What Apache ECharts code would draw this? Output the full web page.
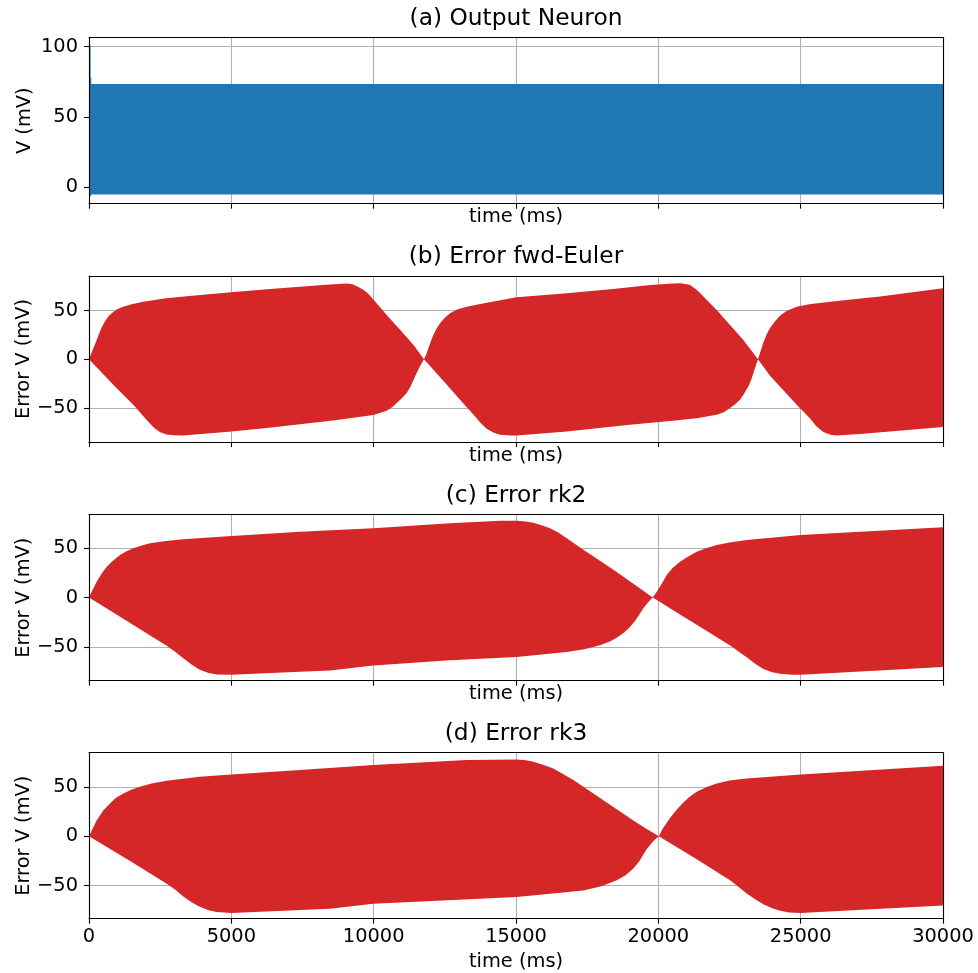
<!DOCTYPE html>
<html>
<head>
<meta charset="utf-8">
<title>Output neuron and integration error</title>
<script src="https://cdn.jsdelivr.net/npm/echarts@6/dist/echarts.min.js"></script>
<style>
  html, body { margin: 0; padding: 0; background: #fff; }
  #chart { width: 978px; height: 973px; }
</style>
</head>
<body>
<div id="chart"></div>
<script>
// Envelope of each trace: [time (ms), voltage (mV)] pairs for the upper and lower edges
const neuronUpper = [[0, 101], [55, 101], [57, 78], [80, 78], [82, 73.5], [30000, 73.5]];
const neuronLower = [[0, -6.3], [70, -6.3], [80, -5], [30000, -5]];

const eulerUpper = [
  [0, 0], [150, 11], [300, 22], [420, 31], [550, 38.5], [700, 44.5], [850, 48.5], [1000, 51.5],
  [1200, 54], [1500, 56.5], [1900, 59], [2700, 62.6], [3900, 66], [5000, 68.8], [6250, 71.8],
  [7400, 74.5], [8450, 76.8], [9053, 77.8], [9250, 77], [9450, 74.5], [9650, 71], [9800, 67.5],
  [10107, 57.5], [10458, 45.5], [10926, 30.1], [11395, 14.7], [11768, 0],
  [11863, 6.1], [11980, 16], [12096, 24.9], [12200, 31], [12331, 36.9], [12500, 42.5],
  [12682, 47.2], [12950, 51.2], [13268, 54], [13970, 58.1], [15024, 63.6], [16782, 67.7],
  [18500, 72.5], [19710, 76.3], [20500, 77.8], [20762, 78], [20950, 77.3], [21114, 76.3],
  [21300, 72.5], [21450, 68.5], [21582, 64.3], [22050, 50.6], [22518, 35.2], [22987, 19.8],
  [23500, 0],
  [23600, 9], [23689, 17], [23800, 25], [23924, 32], [24100, 39], [24275, 44.5], [24500, 49.5],
  [24861, 54], [25300, 56.5], [26032, 59.1], [27789, 64.3], [30000, 72.9]
];
const eulerLower = [
  [0, 0], [400, -12.5], [973, -30], [1558, -47], [1900, -58.5], [2100, -65], [2300, -71],
  [2500, -75.2], [2729, -77.6], [3000, -78.3], [3312, -78.4], [5000, -74.3], [6243, -70.9],
  [7412, -66.9], [8583, -63], [9990, -57.5], [10458, -53], [10650, -49.5], [10809, -45.2],
  [11000, -40], [11161, -34.9], [11300, -28], [11453, -17.8], [11550, -12], [11650, -6],
  [11768, 0],
  [12500, -24], [13268, -49.4], [13550, -58.5], [13750, -65.5], [13970, -71.5], [14200, -75.5],
  [14439, -77.7], [14800, -78.4], [15024, -78.4], [16782, -74.3], [19005, -67.5],
  [20500, -63.3], [21348, -60.8], [22050, -57.2], [22300, -54.5], [22518, -50.3],
  [22700, -46.5], [22870, -41.8], [23000, -36], [23162, -28.1], [23260, -21.5],
  [23338, -14.4], [23420, -7], [23500, 0],
  [23924, -17], [24393, -32], [24861, -47], [25050, -52.5], [25330, -61], [25550, -69],
  [25797, -75], [26050, -77.8], [26267, -78.4], [27201, -76.7], [30000, -69.8]
];

const rk2Upper = [
  [0, 0], [150, 9], [270, 15.9], [450, 24.5], [622, 31.1], [850, 37.5], [1089, 43],
  [1300, 46.7], [1558, 49.8], [1850, 52.7], [2143, 54.9], [2700, 57.3], [3312, 58.9],
  [5000, 62.3], [7412, 66.7], [9990, 70.1], [12682, 75.2], [14439, 77.8], [15024, 77.8],
  [15350, 77], [15609, 75.8], [15900, 73.3], [16195, 70.1], [16500, 65.5], [16782, 60],
  [17366, 48.3], [17951, 37.2], [18538, 25.8], [19124, 13.9], [19804, 0],
  [20000, 8.1], [20150, 15.5], [20293, 22.7], [20500, 30], [20762, 36.2], [21050, 41.5],
  [21348, 46.3], [21700, 50.2], [22050, 53.2], [22500, 55.8], [23104, 58.2], [25000, 63.3],
  [30000, 71.1]
];
const rk2Lower = [
  [0, 0], [738, -13.2], [1558, -27.9], [2260, -40.5], [2729, -49], [3000, -54.5],
  [3312, -61.5], [3600, -68], [3889, -73.2], [4200, -76.5], [4486, -77.9], [5000, -78.3],
  [7412, -75.2], [8466, -73.9], [9990, -68.8], [12682, -63.7], [15024, -60.4],
  [16782, -55.3], [17400, -52.5], [17951, -48.5], [18300, -44.5], [18538, -40.7],
  [18800, -35.5], [19005, -29.9], [19200, -23], [19356, -16.3], [19500, -10],
  [19650, -4.5], [19804, 0],
  [20762, -17.2], [21348, -27.6], [22167, -42.3], [22594, -50], [22900, -56.5],
  [23104, -60.5], [23400, -67], [23689, -72.5], [24000, -75.8], [24275, -77.3],
  [24700, -78.2], [25000, -78.3], [30000, -70.5]
];

const rk3Upper = [
  [0, 0], [270, 16.3], [500, 26], [738, 33.2], [950, 39], [1206, 43.4], [1500, 47.3],
  [1792, 50.1], [2200, 53.5], [2729, 56.2], [3889, 60.3], [5000, 62.7], [7412, 67.1],
  [9990, 72.2], [13268, 77.2], [15024, 77.9], [15350, 77], [15609, 75.5], [15950, 72.5],
  [16312, 68.8], [16650, 63], [17015, 56.9], [17600, 45.5], [18538, 27.3], [19124, 16],
  [19550, 8], [20020, 0],
  [20150, 7.5], [20290, 13.5], [20410, 18.5], [20650, 27], [20878, 34.2], [21100, 40],
  [21348, 45], [21700, 50], [22050, 53.6], [22500, 56.4], [23104, 58.6], [25000, 62.7],
  [30000, 71.4]
];
const rk3Lower = [
  [0, 0], [1558, -27.1], [2729, -48.1], [3000, -53.5], [3312, -61.2], [3600, -67],
  [3889, -71.6], [4200, -75], [4486, -76.9], [5000, -77.9], [8466, -73.5], [9990, -68.4],
  [15024, -61.7], [17366, -54.9], [18000, -50.7], [18538, -44.7], [18850, -39.5],
  [19124, -32.8], [19350, -24.5], [19593, -13], [19850, -4], [20020, 0],
  [21348, -23.3], [22518, -44.5], [22800, -51], [23104, -58], [23400, -64],
  [23689, -68.9], [24000, -73], [24275, -75.5], [24600, -77.2], [25000, -77.9],
  [30000, -70.1]
];

// Tick values
const timeTicks = [0, 5000, 10000, 15000, 20000, 25000, 30000];
const neuronTicks = [0, 50, 100];
const errorTicks = [-50, 0, 50];

const panels = [
  { title: '(a) Output Neuron', yName: 'V (mV)', upper: neuronUpper, lower: neuronLower,
    color: '#1f77b4', yMin: -11.6, yMax: 106.4, ticks: neuronTicks, top: 37.7, nameGapY: 54.5, showX: false },
  { title: '(b) Error fwd-Euler', yName: 'Error V (mV)', upper: eulerUpper, lower: eulerLower,
    color: '#d62728', yMin: -85.2, yMax: 85.5, ticks: errorTicks, top: 276, nameGapY: 56, showX: false },
  { title: '(c) Error rk2', yName: 'Error V (mV)', upper: rk2Upper, lower: rk2Lower,
    color: '#d62728', yMin: -84.3, yMax: 83.9, ticks: errorTicks, top: 514.7, nameGapY: 56, showX: false },
  { title: '(d) Error rk3', yName: 'Error V (mV)', upper: rk3Upper, lower: rk3Lower,
    color: '#d62728', yMin: -83.6, yMax: 84.7, ticks: errorTicks, top: 752.7, nameGapY: 56, showX: true }
];

const FONT = 'DejaVu Sans';
const TXT = 19.4;
const spine = { color: '#000', width: 1.1 };
const gridLine = { color: '#b0b0b0', width: 1.1 };
const minus = v => String(v).replace('-', '\u2212');
const plain = v => String(v);

const grids = [], xAxes = [], yAxes = [], series = [], graphics = [];

panels.forEach((p, i) => {
  grids.push({ left: 89, width: 854, top: p.top, height: 166 });

  // main x axis: grid lines, bottom spine, ticks, labels
  xAxes.push({
    gridIndex: i, type: 'value', min: 0, max: 30000, interval: 5000, position: 'bottom', z: 0,
    axisLine: { show: true, onZero: false, lineStyle: spine },
    axisTick: { show: true, inside: false, length: 5, lineStyle: spine },
    axisLabel: { show: p.showX, margin: 9, fontSize: TXT, fontFamily: FONT, color: '#000',
                 customValues: timeTicks, formatter: plain },
    splitLine: { show: true, lineStyle: gridLine },
    name: 'time (ms)', nameLocation: 'middle', nameGap: p.showX ? 34 : 4, nameMoveOverlap: false,
    nameTextStyle: { fontSize: TXT, fontFamily: FONT, color: '#000' }
  });
  // top spine drawn above the filled band
  xAxes.push({
    gridIndex: i, type: 'value', min: 0, max: 30000, position: 'top', z: 10,
    axisLine: { show: true, onZero: false, lineStyle: spine },
    axisTick: { show: false }, axisLabel: { show: false }, splitLine: { show: false }
  });

  // main y axis: grid lines, ticks, labels, name
  yAxes.push({
    gridIndex: i, type: 'value', min: p.yMin, max: p.yMax, position: 'left', z: 0,
    axisLine: { show: false },
    axisTick: { show: true, inside: false, length: 5, lineStyle: spine, customValues: p.ticks },
    axisLabel: { margin: 11, fontSize: TXT, fontFamily: FONT, color: '#000',
                 customValues: p.ticks, formatter: minus },
    splitLine: { show: true, lineStyle: gridLine },
    name: p.yName, nameLocation: 'middle', nameGap: p.nameGapY, nameMoveOverlap: false,
    nameTextStyle: { fontSize: TXT, fontFamily: FONT, color: '#000' }
  });
  // left and right spines above the band
  ['left', 'right'].forEach(pos => yAxes.push({
    gridIndex: i, type: 'value', min: p.yMin, max: p.yMax, position: pos, z: 10,
    axisLine: { show: true, onZero: false, lineStyle: spine },
    axisTick: { show: false }, axisLabel: { show: false }, splitLine: { show: false }
  }));

  // the dense oscillation appears as a solid band between its envelopes
  series.push({
    type: 'custom', xAxisIndex: 2 * i, yAxisIndex: 3 * i, z: 2, clip: true,
    data: [[0, 0]],
    renderItem: (params, api) => {
      const pts = p.upper.map(d => api.coord(d))
        .concat(p.lower.slice().reverse().map(d => api.coord(d)));
      return { type: 'polygon', shape: { points: pts }, style: { fill: p.color, stroke: null } };
    },
    silent: true
  });

  graphics.push({
    type: 'text', x: 516, y: p.top - 19,
    style: { text: p.title, font: '23.3px "' + FONT + '"', fill: '#000',
             align: 'center', verticalAlign: 'middle', textAlign: 'center', textVerticalAlign: 'middle' }
  });
});

const chart = echarts.init(document.getElementById('chart'), null, { renderer: 'canvas' });
chart.setOption({
  animation: false,
  backgroundColor: '#fff',
  grid: grids,
  xAxis: xAxes,
  yAxis: yAxes,
  series: series,
  graphic: graphics
});
</script>
</body>
</html>
